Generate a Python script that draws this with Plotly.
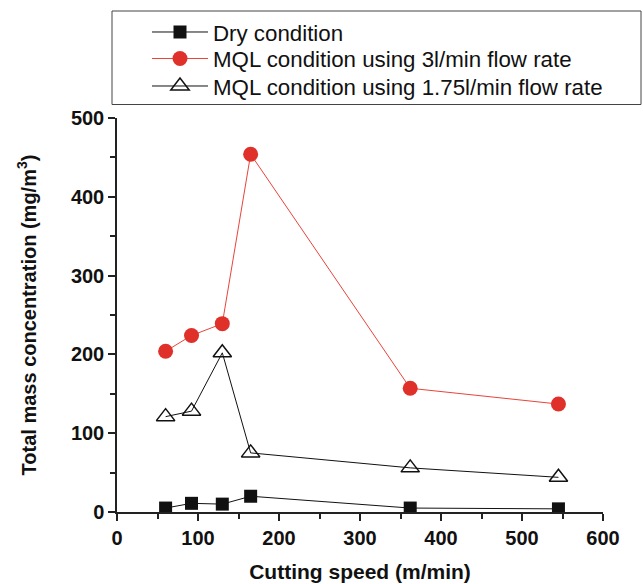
import plotly.graph_objects as go

speed = [60, 92, 130, 165, 362, 545]
dry = [5, 11, 10, 20, 5, 4]
mql_3 = [204, 224, 239, 454, 157, 137]
mql_175 = [121, 128, 202, 75, 56, 44]

names = ["Dry condition", "MQL condition using 3l/min flow rate",
         "MQL condition using 1.75l/min flow rate"]

fig = go.Figure()
fig.add_trace(go.Scatter(x=speed, y=dry, name=names[0], mode="lines+markers",
                         legend="legend",
                         line=dict(color="#111111", width=1),
                         marker=dict(symbol="square", size=13, color="#111111")))
fig.add_trace(go.Scatter(x=speed, y=mql_3, name=names[1], mode="lines+markers",
                         legend="legend2",
                         line=dict(color="#e8443a", width=1),
                         marker=dict(symbol="circle", size=15, color="#e0302a")))
fig.add_trace(go.Scatter(x=speed, y=mql_175, name=names[2], mode="lines+markers",
                         legend="legend3",
                         line=dict(color="#111111", width=1),
                         marker=dict(symbol="triangle-up-open", size=16, color="#111111",
                                     line=dict(width=1.5))))

axis_common = dict(showline=True, linecolor="#222222", linewidth=1.5,
                   ticks="outside", ticklen=7, tickwidth=1.5, tickcolor="#222222",
                   showgrid=False, zeroline=False, mirror=False, automargin=False,
                   tickfont=dict(family="Liberation Sans", size=20, color="#111111", weight="bold"))

fig.update_xaxes(range=[0, 600], tick0=0, dtick=100,
                 minor=dict(ticks="outside", ticklen=5, tickwidth=1.5, tickcolor="#222222", dtick=50),
                 title=dict(text="Cutting speed (m/min)", standoff=17,
                            font=dict(family="Liberation Sans", size=21, color="#111111", weight="bold")),
                 **axis_common)
fig.update_yaxes(range=[0, 500], tick0=0, dtick=100,
                 minor=dict(ticks="outside", ticklen=5, tickwidth=1.5, tickcolor="#222222", dtick=50),
                 title=dict(text="Total mass concentration (mg/m<sup>3</sup>)", standoff=29,
                            font=dict(family="Liberation Sans", size=20, color="#111111", weight="bold")),
                 **axis_common)

# legend frame
fig.add_shape(type="rect", xref="paper", yref="paper",
              x0=(112 - 117) / 486, x1=(641 - 117) / 486,
              y0=1 + (118 - 104.5) / 394, y1=1 + (118 - 11) / 394,
              line=dict(color="#444444", width=1), fillcolor="rgba(0,0,0,0)")

def leg(ypix):
    return dict(x=(147 - 117) / 486, y=1 + (118 - ypix) / 394, xanchor="left", yanchor="middle",
                borderwidth=0, bgcolor="rgba(0,0,0,0)",
                font=dict(family="Liberation Sans", size=22.3, color="#111111"),
                itemwidth=56)

fig.update_layout(
    width=643, height=584,
    margin=dict(l=117, r=40, t=118, b=72, autoexpand=False),
    paper_bgcolor="white", plot_bgcolor="white",
    showlegend=True,
    legend=leg(32),
    legend2=leg(58.5),
    legend3=leg(86),
)
fig.write_html("out.html", post_script="document.body.style.margin='0';",
               config={"displayModeBar": False})
